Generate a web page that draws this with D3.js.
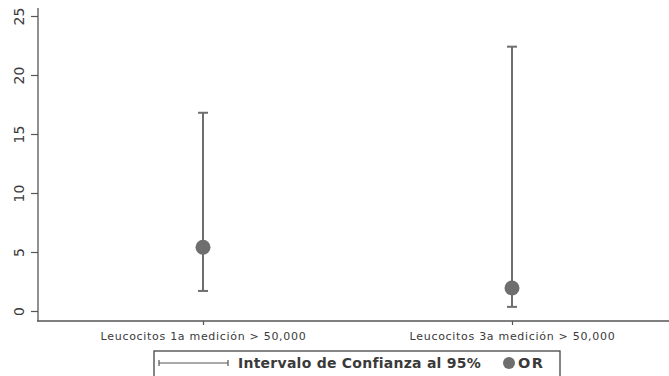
<!DOCTYPE html>
<html>
<head>
<meta charset="utf-8">
<script src="https://cdn.jsdelivr.net/npm/d3@7"></script>
<style>
  body { margin: 0; background: #fff; }
  svg { display: block; }
</style>
</head>
<body>
<div id="chart"></div>
<script>
// Data
const categories = ["Leucocitos 1a medición > 50,000", "Leucocitos 3a medición > 50,000"];
const orValues = [5.4, 1.95];
const ciLower = [1.7, 0.35];
const ciUpper = [16.8, 22.4];
const yTicks = [0, 5, 10, 15, 20, 25];

const width = 669, height = 376;
const font = "DejaVu Sans, Liberation Sans, sans-serif";
const ink = "#555", markColor = "#6e6e6e", textColor = "#3a3a3a";

const svg = d3.select("#chart").append("svg")
    .attr("width", width)
    .attr("height", height)
    .attr("font-family", font);

const x = d3.scalePoint()
    .domain(categories)
    .range([203, 512]);

const y = d3.scaleLinear()
    .domain([0, 25])
    .range([311, 16]);

// y axis
const gy = svg.append("g")
    .attr("transform", "translate(38,0)")
    .call(d3.axisLeft(y).tickValues(yTicks).tickSize(7).tickSizeOuter(0))
    .attr("font-family", font)
    .attr("font-size", 14);
gy.select(".domain").attr("d", "M0,8V321").attr("stroke", ink).attr("stroke-width", 1.3);
gy.selectAll(".tick line").attr("stroke", ink).attr("stroke-width", 1.2);
gy.selectAll(".tick text")
    .attr("x", null).attr("dy", null)
    .attr("transform", "translate(-19,0) rotate(-90)")
    .attr("text-anchor", "middle")
    .attr("dominant-baseline", "central")
    .attr("fill", textColor);

// x axis
const gx = svg.append("g")
    .attr("transform", "translate(0,321)")
    .call(d3.axisBottom(x).tickSize(4).tickSizeOuter(0))
    .attr("font-family", font)
    .attr("font-size", 11);
gx.select(".domain").attr("d", "M37,0H669").attr("stroke", ink).attr("stroke-width", 1.3);
gx.selectAll(".tick line").attr("stroke", ink).attr("stroke-width", 1.2);
gx.selectAll(".tick text")
    .attr("y", 11)
    .attr("letter-spacing", 0.7)
    .attr("fill", textColor);

// confidence intervals
const rows = categories.map((c, i) => ({ c, or: orValues[i], lo: ciLower[i], hi: ciUpper[i] }));
const cap = 5;

const g = svg.append("g").attr("stroke", markColor).attr("stroke-width", 2);
g.selectAll(".ci").data(rows).enter().append("line")
    .attr("x1", d => x(d.c)).attr("x2", d => x(d.c))
    .attr("y1", d => y(d.lo)).attr("y2", d => y(d.hi));
g.selectAll(".capTop").data(rows).enter().append("line")
    .attr("x1", d => x(d.c) - cap).attr("x2", d => x(d.c) + cap)
    .attr("y1", d => y(d.hi)).attr("y2", d => y(d.hi));
g.selectAll(".capBot").data(rows).enter().append("line")
    .attr("x1", d => x(d.c) - cap).attr("x2", d => x(d.c) + cap)
    .attr("y1", d => y(d.lo)).attr("y2", d => y(d.lo));

svg.selectAll(".dot").data(rows).enter().append("circle")
    .attr("cx", d => x(d.c))
    .attr("cy", d => y(d.or))
    .attr("r", 7.5)
    .attr("fill", markColor);

// legend
const lg = svg.append("g");
lg.append("rect")
    .attr("x", 154).attr("y", 351)
    .attr("width", 406).attr("height", 40)
    .attr("fill", "none").attr("stroke", "#444").attr("stroke-width", 1.3);
lg.append("line").attr("x1", 159).attr("x2", 228).attr("y1", 363).attr("y2", 363)
    .attr("stroke", "#555").attr("stroke-width", 1.2);
[159, 228].forEach(px => lg.append("line")
    .attr("x1", px).attr("x2", px).attr("y1", 360).attr("y2", 366)
    .attr("stroke", "#555").attr("stroke-width", 1.2));
lg.append("text").attr("x", 238).attr("y", 368)
    .attr("font-size", 14).attr("font-weight", "bold").attr("fill", textColor)
    .attr("letter-spacing", 0.25)
    .text("Intervalo de Confianza al 95%");
lg.append("circle").attr("cx", 509).attr("cy", 363).attr("r", 6).attr("fill", markColor);
lg.append("text").attr("x", 518).attr("y", 368)
    .attr("font-size", 14.5).attr("font-weight", "bold").attr("fill", textColor)
    .attr("letter-spacing", 1.5)
    .text("OR");
</script>
</body>
</html>
